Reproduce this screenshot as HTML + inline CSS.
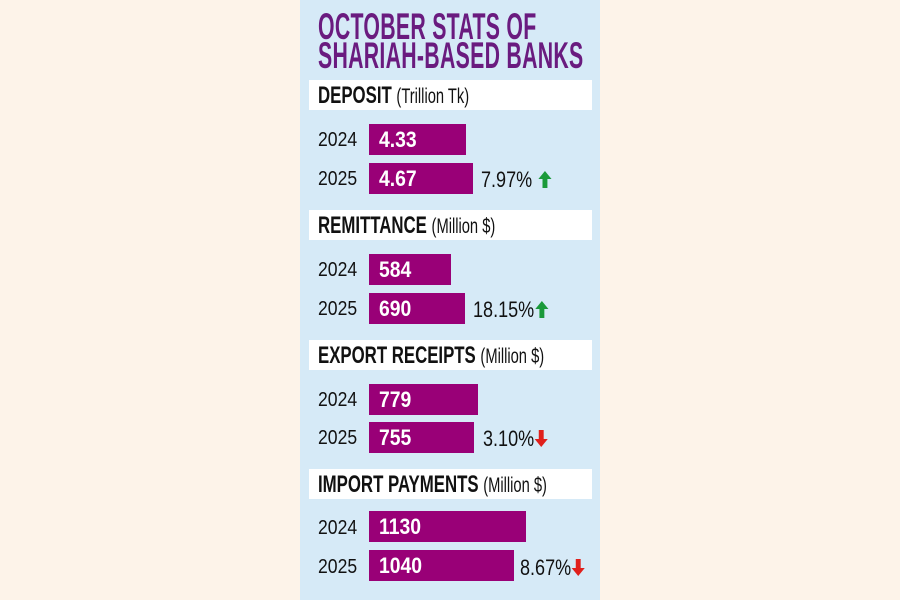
<!DOCTYPE html>
<html><head><style>
body{margin:0;width:900px;height:600px;background:#fdf3e9;position:relative;overflow:hidden;font-family:"Liberation Sans Narrow","Liberation Sans",sans-serif}
.p{position:absolute;left:300px;top:0;width:300px;height:600px;background:#d6eaf7}
.a{position:absolute;white-space:nowrap;transform-origin:0 0}
.t{color:#6a1b7f;font-weight:bold;font-size:37px;line-height:37px;transform:scaleX(0.575);letter-spacing:0.5px}
.h{position:absolute;left:309px;width:283px;height:30px;background:#fff}
.hl{font-weight:bold;font-size:24px;color:#111;transform:scaleX(0.7)}
.hl span{font-weight:normal;font-size:21px}
.b{position:absolute;left:369px;height:31px;background:#990077}
.bv{color:#fff;font-weight:bold;font-size:22px;transform:scaleX(0.88)}
.y{font-size:20px;color:#111;transform:scaleX(0.88)}
.pc{font-size:22px;color:#111;transform:scaleX(0.82)}
svg{vertical-align:-1px}
</style></head><body>
<div class="p"></div>
<div class="a t" style="left:318px;top:8px">OCTOBER STATS OF</div>
<div class="a t" style="left:318px;top:37px">SHARIAH-BASED BANKS</div>

<div class="h" style="top:80px"></div>
<div class="a hl" style="left:318px;top:82px">DEPOSIT <span>(Trillion Tk)</span></div>
<div class="b" style="top:124px;width:97px"></div><div class="b" style="top:163px;width:104px"></div>
<div class="a y" style="left:318px;top:129px">2024</div><div class="a y" style="left:318px;top:168px">2025</div>
<div class="a bv" style="left:379px;top:127px">4.33</div><div class="a bv" style="left:379px;top:166px">4.67</div>
<div class="a pc" style="left:481px;top:167px">7.97% <svg width="18" height="17"><path d="M9 0L17 8H12V17H6V8H1Z" fill="#1a9a3a"/></svg></div>

<div class="h" style="top:210px"></div>
<div class="a hl" style="left:318px;top:212px">REMITTANCE <span>(Million $)</span></div>
<div class="b" style="top:254px;width:82px"></div><div class="b" style="top:293px;width:96px"></div>
<div class="a y" style="left:318px;top:259px">2024</div><div class="a y" style="left:318px;top:298px">2025</div>
<div class="a bv" style="left:379px;top:257px">584</div><div class="a bv" style="left:379px;top:296px">690</div>
<div class="a pc" style="left:473px;top:297px">18.15%<svg width="18" height="17"><path d="M9 0L17 8H12V17H6V8H1Z" fill="#1a9a3a"/></svg></div>

<div class="h" style="top:340px"></div>
<div class="a hl" style="left:318px;top:342px">EXPORT RECEIPTS <span>(Million $)</span></div>
<div class="b" style="top:384px;width:109px"></div><div class="b" style="top:422px;width:105px"></div>
<div class="a y" style="left:318px;top:389px">2024</div><div class="a y" style="left:318px;top:427px">2025</div>
<div class="a bv" style="left:379px;top:387px">779</div><div class="a bv" style="left:379px;top:425px">755</div>
<div class="a pc" style="left:483px;top:426px">3.10%<svg width="18" height="17"><path d="M9 17L17 9H12V0H6V9H1Z" fill="#e0201c"/></svg></div>

<div class="h" style="top:469px"></div>
<div class="a hl" style="left:318px;top:471px">IMPORT PAYMENTS <span>(Million $)</span></div>
<div class="b" style="top:511px;width:157px"></div><div class="b" style="top:550px;width:145px"></div>
<div class="a y" style="left:318px;top:517px">2024</div><div class="a y" style="left:318px;top:556px">2025</div>
<div class="a bv" style="left:379px;top:514px">1130</div><div class="a bv" style="left:379px;top:553px">1040</div>
<div class="a pc" style="left:520px;top:555px">8.67%<svg width="18" height="17"><path d="M9 17L17 9H12V0H6V9H1Z" fill="#e0201c"/></svg></div>
</body></html>
